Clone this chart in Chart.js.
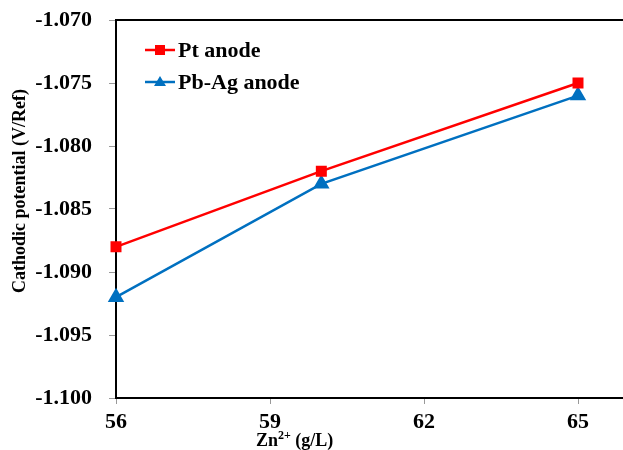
<!DOCTYPE html>
<html>
<head>
<meta charset="utf-8">
<script src="https://cdn.jsdelivr.net/npm/chart.js@4/dist/chart.umd.min.js"></script>
<style>
  html, body { margin: 0; padding: 0; background: #fff; overflow: hidden; }
  #wrap { position: relative; width: 623px; height: 450px; overflow: hidden; }
  #box { position: absolute; left: 0; top: 0; width: 748px; height: 450px; }
</style>
</head>
<body>
<div id="wrap"><div id="box"><canvas id="chart"></canvas></div></div>
<script>
// Zn2+ concentration (g/L)
const zinc = [56, 60, 65];
// cathodic potential (V/Ref) for each anode
const ptAnode = [-1.088, -1.082, -1.075];
const pbAgAnode = [-1.092, -1.083, -1.076];

const FONT = "'Liberation Serif', 'Times New Roman', serif";

// legend inside the plot, the top frame line and both axis titles
const extras = {
  id: 'extras',
  afterDraw(chart) {
    const ctx = chart.ctx;
    const a = chart.chartArea;
    ctx.save();
    ctx.strokeStyle = '#000';
    ctx.lineWidth = 2;
    ctx.beginPath();
    ctx.moveTo(a.left, a.top);
    ctx.lineTo(a.right, a.top);
    ctx.stroke();

    const items = [
      { text: 'Pt anode', color: '#ff0000', shape: 'rect', y: 50 },
      { text: 'Pb-Ag anode', color: '#0070c0', shape: 'tri', y: 82 }
    ];
    items.forEach(it => {
      ctx.strokeStyle = it.color;
      ctx.fillStyle = it.color;
      ctx.lineWidth = 2.5;
      ctx.beginPath();
      ctx.moveTo(145, it.y);
      ctx.lineTo(175, it.y);
      ctx.stroke();
      ctx.beginPath();
      if (it.shape === 'rect') {
        ctx.rect(155, it.y - 5, 10, 10);
      } else {
        ctx.moveTo(160, it.y - 6);
        ctx.lineTo(166, it.y + 4);
        ctx.lineTo(154, it.y + 4);
        ctx.closePath();
      }
      ctx.fill();
      ctx.fillStyle = '#000';
      ctx.font = 'bold 22px ' + FONT;
      ctx.textBaseline = 'middle';
      ctx.textAlign = 'left';
      ctx.fillText(it.text, 178, it.y + 1);
    });

    // y axis title
    ctx.save();
    ctx.translate(20, 191);
    ctx.rotate(-Math.PI / 2);
    ctx.font = 'bold 18px ' + FONT;
    ctx.textAlign = 'center';
    ctx.textBaseline = 'middle';
    ctx.fillText('Cathodic potential (V/Ref)', 0, 0);
    ctx.restore();

    // x axis title
    ctx.fillStyle = '#000';
    ctx.textAlign = 'left';
    ctx.textBaseline = 'alphabetic';
    let x = 256;
    const base = 446;
    ctx.font = 'bold 18px ' + FONT;
    ctx.fillText('Zn', x, base);
    x += ctx.measureText('Zn').width;
    ctx.font = 'bold 12px ' + FONT;
    ctx.fillText('2+', x, base - 7);
    x += ctx.measureText('2+').width;
    ctx.font = 'bold 18px ' + FONT;
    ctx.fillText(' (g/L)', x, base);
    ctx.restore();
  }
};

new Chart(document.getElementById('chart'), {
  type: 'line',
  data: {
    datasets: [
      {
        label: 'Pt anode',
        data: zinc.map((z, i) => ({ x: z, y: ptAnode[i] })),
        borderColor: '#ff0000',
        backgroundColor: '#ff0000',
        borderWidth: 2.5,
        pointStyle: 'rect',
        pointRadius: 6,
        pointHoverRadius: 6,
        clip: false
      },
      {
        label: 'Pb-Ag anode',
        data: zinc.map((z, i) => ({ x: z, y: pbAgAnode[i] })),
        borderColor: '#0070c0',
        backgroundColor: '#0070c0',
        borderWidth: 2.5,
        pointStyle: 'triangle',
        pointRadius: 7,
        pointHoverRadius: 7,
        clip: false
      }
    ]
  },
  options: {
    responsive: true,
    maintainAspectRatio: false,
    animation: false,
    events: [],
    layout: { padding: { top: 20, right: 15, left: 0, bottom: 0 } },
    plugins: { legend: { display: false }, tooltip: { enabled: false } },
    scales: {
      x: {
        type: 'linear',
        min: 56, max: 68,
        afterFit(scale) { scale.height = 52; },
        border: { color: '#000', width: 2 },
        grid: { drawOnChartArea: false, drawTicks: true, tickLength: 6, tickColor: '#999' },
        ticks: {
          stepSize: 3,
          padding: 5,
          color: '#000',
          font: { family: FONT, size: 22, weight: 'bold' }
        }
      },
      y: {
        min: -1.100, max: -1.070,
        afterFit(scale) {
          scale.width = 116;
          scale.paddingTop = 0;
          scale.paddingBottom = 0;
        },
        border: { color: '#000', width: 2 },
        grid: { drawOnChartArea: false, drawTicks: true, tickLength: 7, tickColor: '#999' },
        ticks: {
          stepSize: 0.005,
          padding: 17,
          color: '#000',
          font: { family: FONT, size: 22, weight: 'bold' },
          callback: v => v.toFixed(3)
        }
      }
    }
  },
  plugins: [extras]
});
</script>
</body>
</html>
